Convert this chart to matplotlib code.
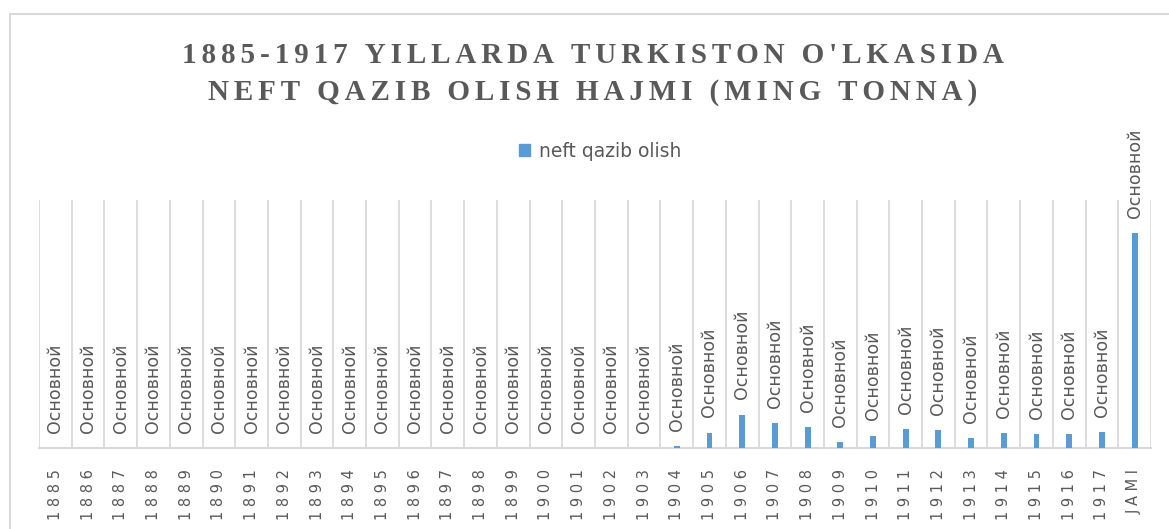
import numpy as np
import matplotlib.pyplot as plt
from matplotlib.patches import Rectangle, Patch

years = [str(y) for y in range(1885, 1918)] + ["JAMI"]
# production (ming tonna), zero before 1904
values = [0] * 19 + [2, 15.5, 33.5, 25, 21, 6, 12.5, 19, 18, 10, 15, 14, 14, 16, 215]
bar_label = "Основной"
series_name = "neft qazib olish"
title_lines = ["1885-1917 YILLARDA TURKISTON O'LKASIDA",
               "NEFT QAZIB OLISH HAJMI (MING TONNA)"]

W, H = 1169, 529
fig = plt.figure(figsize=(W / 100, H / 100), dpi=100)

#axes placed in pixel coords of the picture
left, right, top, bottom = 39, 1151, 200, 448
ax = fig.add_axes([left / W, 1 - bottom / H, (right - left) / W, (bottom - top) / H])

blue = "#5B9BD5"
grey = "#595959"
gridc = "#D9D9D9"

x = np.arange(len(years))
ax.bar(x, values, width=0.18, color=blue, zorder=3)
ax.set_xlim(-0.5, len(years) - 0.5)
ax.set_ylim(0, 248)

for k in range(len(years) + 1):
    ax.axvline(k - 0.5, color=gridc, lw=1.3, zorder=1)

for s in ["top", "left", "right"]:
    ax.spines[s].set_visible(False)
ax.spines["bottom"].set_color(gridc)
ax.spines["bottom"].set_linewidth(1.5)
ax.set_yticks([])

ax.set_xticks(x)
ax.set_xticklabels([" ".join(y) for y in years], rotation=90, fontsize=10.5, color=grey)
ax.tick_params(axis="x", length=0, pad=15)

for xi, v in zip(x, values):
    ax.annotate(bar_label, (xi, v), xytext=(0, 11), textcoords="offset points",
                rotation=90, ha="center", va="bottom", fontsize=12.5, color=grey)

# letter spaced title (six-per-em space between letters)
spaced = "\n".join("\u2006".join(line) for line in title_lines)
fig.text(0.5 + 8 / W, 1 - 74 / H, spaced, ha="center", va="center", fontsize=21,
         family=["Liberation Serif", "DejaVu Serif"], weight="bold", color=grey,
         linespacing=1.45)

ax.legend(handles=[Patch(color=blue, label=series_name)], loc="center",
          bbox_to_anchor=(600 / W, 1 - 151 / H), bbox_transform=fig.transFigure,
          frameon=False, fontsize=13.5, labelcolor=grey, handlelength=0.6, handleheight=0.6,
          handletextpad=0.5)

fig.patches.append(Rectangle((10 / W, -0.1), 1.2, 1 - 14 / H + 0.1, transform=fig.transFigure,
                             fill=False, edgecolor=gridc, lw=1.5))

fig.savefig("out.png", dpi=100)
